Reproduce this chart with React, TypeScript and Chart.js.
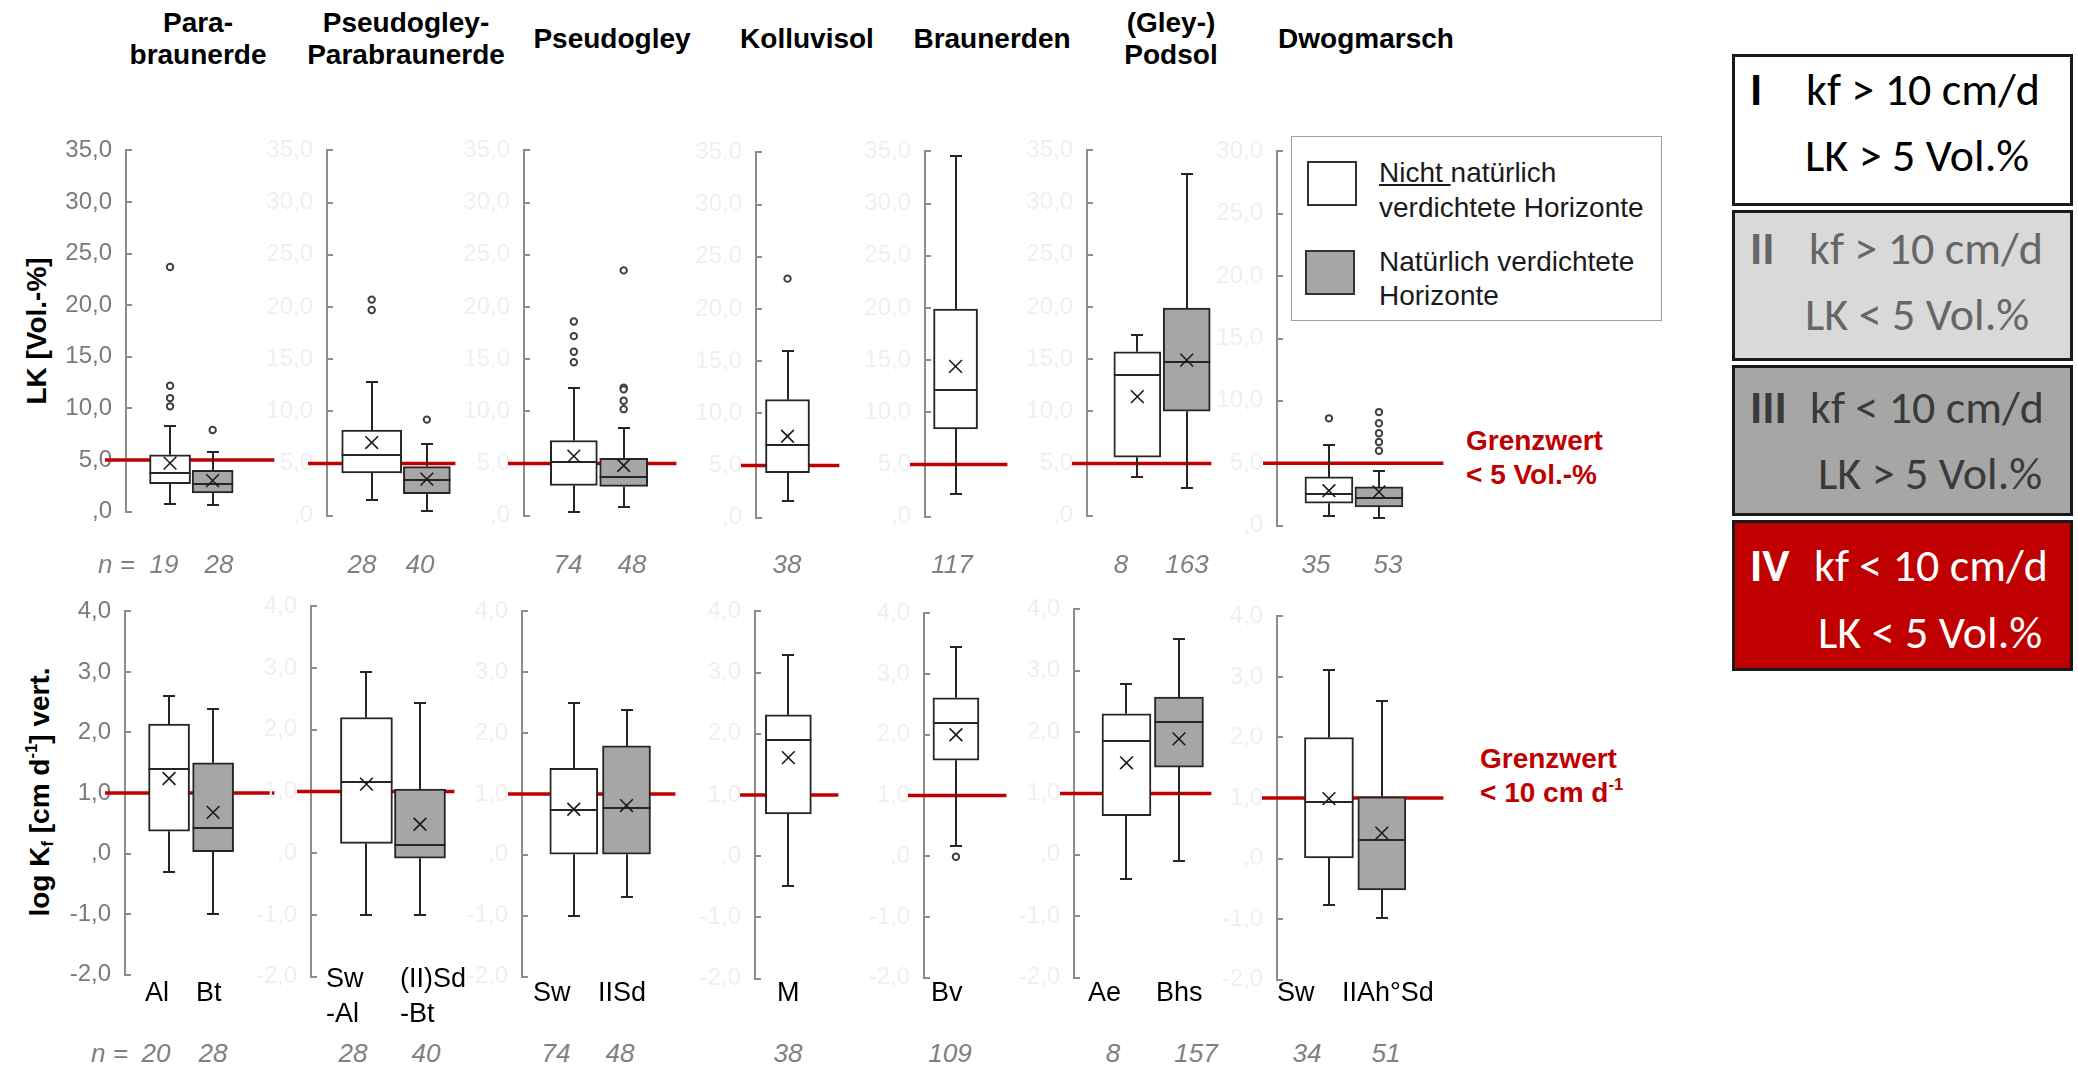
import React, { useEffect, useRef } from 'react';
import { Chart, registerables } from 'chart.js';

Chart.register(...registerables);

const ARIAL = '"Liberation Sans", Arial, sans-serif';
const CALIBRI = 'Carlito, Lato, "Open Sans", sans-serif';

// ---------------- data ----------------
const soilTypes = ['Para-\nbraunerde', 'Pseudogley-\nParabraunerde', 'Pseudogley', 'Kolluvisol', 'Braunerden', '(Gley-)\nPodsol', 'Dwogmarsch'];
const horizons = [['Al', 'Bt'], ['Sw\n-Al', '(II)Sd\n-Bt'], ['Sw', 'IISd'], ['M'], ['Bv'], ['Ae', 'Bhs'], ['Sw', 'IIAh°Sd']];
const naturallyCompacted = [[false, true], [false, true], [false, true], [false], [false], [false, true], [false, true]];

// LK [Vol.-%]
const lkWhiskerLow = [[0.7, 0.6], [1.5, 0.4], [0.3, 0.8], [1.6], [2.2], [3.7, 2.6], [0.8, 0.6]];
const lkQ1 = [[2.7, 1.8], [4.1, 2.1], [2.9, 2.8], [4.3], [8.4], [5.6, 10.0], [1.8, 1.5]];
const lkMedian = [[3.7, 2.7], [5.8, 3.4], [5.1, 3.7], [7.0], [12.1], [13.5, 14.7], [2.5, 2.2]];
const lkQ3 = [[5.5, 4.0], [8.2, 4.7], [7.2, 5.5], [11.3], [19.9], [15.7, 19.9], [3.9, 3.1]];
const lkWhiskerHigh = [[8.3, 5.8], [12.8, 6.9], [12.2, 8.4], [16.0], [34.6], [17.3, 32.7], [6.5, 4.4]];
const lkMean = [[4.7, 3.0], [7.0, 3.5], [5.7, 4.8], [7.8], [14.4], [11.4, 14.9], [2.8, 2.7]];
const lkOutliers = [
  [[23.7, 12.2, 11.0, 10.2], [7.9]],
  [[20.7, 19.7], [9.2]],
  [[18.6, 17.2, 15.7, 14.7], [23.5, 12.25, 12.1, 11.0, 10.2]],
  [[22.9]],
  [[]],
  [[], []],
  [[8.6], [9.1, 8.2, 7.4, 6.7, 6.0]],
];
const lkN = [[19, 28], [28, 40], [74, 48], [38], [117], [8, 163], [35, 53]];
const lkAxisMax = [35, 35, 35, 35, 35, 35, 30];
const lkTickValues = [0, 5, 10, 15, 20, 25, 30, 35];
const lkTickLabels = [',0', '5,0', '10,0', '15,0', '20,0', '25,0', '30,0', '35,0'];
const lkLimit = 5;

// log Kf [cm d-1]
const kfWhiskerLow = [[-0.3, -1.0], [-1.0, -1.0], [-1.0, -0.69], [-0.48], [0.17], [-0.39, -0.1], [-0.76, -0.99]];
const kfQ1 = [[0.37, 0.03], [0.16, -0.08], [0.01, 0.01], [0.69], [1.58], [0.64, 1.43], [0.01, -0.52]];
const kfMedian = [[1.4, 0.42], [1.15, 0.14], [0.74, 0.77], [1.9], [2.2], [1.85, 2.16], [0.93, 0.3]];
const kfQ3 = [[2.14, 1.5], [2.2, 1.04], [1.42, 1.79], [2.31], [2.61], [2.3, 2.57], [2.0, 1.02]];
const kfWhiskerHigh = [[2.61, 2.38], [2.93, 2.44], [2.5, 2.38], [3.28], [3.44], [2.78, 3.52], [3.11, 2.6]];
const kfMean = [[1.24, 0.68], [1.12, 0.47], [0.75, 0.81], [1.61], [2.0], [1.5, 1.89], [0.99, 0.42]];
const kfOutliers = [[[], []], [[], []], [[], []], [[]], [[-0.01]], [[], []], [[], []]];
const kfN = [[20, 28], [28, 40], [74, 48], [38], [109], [8, 157], [34, 51]];
const kfTickValues = [-2, -1, 0, 1, 2, 3, 4];
const kfTickLabels = ['-2,0', '-1,0', ',0', '1,0', '2,0', '3,0', '4,0'];
const kfLimit = 1;

const classNumerals = ['I', 'II', 'III', 'IV'];
const classKf = ['kf > 10 cm/d', 'kf > 10 cm/d', 'kf < 10 cm/d', 'kf < 10 cm/d'];
const classLk = ['LK > 5 Vol.%', 'LK < 5 Vol.%', 'LK > 5 Vol.%', 'LK < 5 Vol.%'];

// ---------------- layout ----------------
type Geom = { axis: number; right: number; top: number; bottom: number; centers: number[]; widths: number[]; redExt: number };

const TOP_LAYOUT: Geom[] = [
  { axis: 126, right: 281, top: 135.5, bottom: 526, centers: [172, 216.5], widths: [41, 41], redExt: 21 },
  { axis: 327, right: 462, top: 135.7, bottom: 530, centers: [374, 432], widths: [60, 47], redExt: 19 },
  { axis: 524, right: 683, top: 135.7, bottom: 530, centers: [576, 628], widths: [47, 48], redExt: 16 },
  { axis: 756, right: 846, top: 138, bottom: 532, centers: [790], widths: [44], redExt: 15 },
  { axis: 925, right: 1014, top: 137, bottom: 531, centers: [958], widths: [44], redExt: 15 },
  { axis: 1087, right: 1218, top: 136, bottom: 530, centers: [1140, 1192], widths: [47, 47], redExt: 15 },
  { axis: 1277, right: 1450, top: 136.8, bottom: 540.4, centers: [1331, 1383], widths: [48, 48], redExt: 14 },
];
const BOTTOM_LAYOUT: Geom[] = [
  { axis: 125, right: 281, top: 596.6, bottom: 989.4, centers: [171, 217], widths: [41, 41], redExt: 20 },
  { axis: 311, right: 461, top: 592.4, bottom: 991, centers: [369, 425], widths: [52, 51], redExt: 14 },
  { axis: 522, right: 682, top: 596.6, bottom: 990.7, centers: [576, 631], widths: [48, 48], redExt: 14 },
  { axis: 755, right: 845, top: 597.3, bottom: 992.8, centers: [791], widths: [46], redExt: 15 },
  { axis: 924, right: 1013, top: 599.4, bottom: 991.8, centers: [958.5], widths: [46], redExt: 16 },
  { axis: 1074, right: 1218, top: 595, bottom: 992, centers: [1129, 1184], widths: [49, 49], redExt: 14 },
  { axis: 1277, right: 1450, top: 601.8, bottom: 993.5, centers: [1331, 1386], widths: [49, 48], redExt: 15 },
];

const TITLE_X = [198, 406, 612, 807, 992, 1171, 1366];
const N_TOP_X = [[164, 219], [362, 420], [568, 632], [787], [952], [1121, 1187], [1316, 1388]];
const N_BOTTOM_X = [[156, 213], [353, 426], [556, 620], [788], [950], [1113, 1196], [1307, 1386]];
const HORIZON_X = [[145, 196], [326, 400], [533, 598], [777], [931], [1088, 1156], [1277, 1342]];

type PanelProps = {
  geom: Geom;
  compacted: boolean[];
  wLow: number[]; q1: number[]; med: number[]; q3: number[]; wHigh: number[]; mean: number[];
  outliers: number[][];
  yMin: number; yMax: number; step: number;
  tickValues: number[]; tickLabels: string[]; tickColor: string; limit: number;
};

function BoxPanel(p: PanelProps) {
  const ref = useRef<HTMLCanvasElement>(null);
  const WY = 70, PT = 20, PB = 20, PR = 4;
  const g = p.geom;
  const axisX = Math.round(g.axis);
  const right = Math.round(g.right);
  const yTop = Math.round(g.top);
  const yBot = Math.round(g.bottom);
  const left = axisX - WY;
  const width = right - axisX + WY + PR;
  const height = yBot - yTop + PT + PB;

  useEffect(() => {
    const canvas = ref.current;
    if (!canvas) return;
    const n = p.q1.length;
    const S = n > 1 ? g.centers[1] - g.centers[0] : 50;
    const xMin = (axisX - g.centers[0]) / S;
    const xMax = (right - g.centers[0]) / S;
    const datasets: any[] = [];
    for (let i = 0; i < n; i++) {
      datasets.push({
        type: 'bar',
        data: [{ x: i, y: [p.q1[i], p.q3[i]] }],
        backgroundColor: p.compacted[i] ? '#a6a6a6' : '#ffffff',
        borderColor: '#262626',
        borderWidth: 2,
        borderSkipped: false,
        barThickness: g.widths[i],
        grouped: false,
        order: 3,
      });
    }
    datasets.push({
      type: 'scatter',
      data: p.mean.map((m, i) => ({ x: i, y: m })),
      pointStyle: 'crossRot',
      pointRadius: 9,
      pointBorderWidth: 1.6,
      pointBorderColor: '#1a1a1a',
      pointBackgroundColor: 'rgba(0,0,0,0)',
      order: 1,
    });
    const outl: { x: number; y: number }[] = [];
    p.outliers.forEach((arr, i) => arr.forEach((v) => outl.push({ x: i, y: v })));
    datasets.push({
      type: 'scatter',
      data: outl,
      pointStyle: 'circle',
      pointRadius: 3.2,
      pointBorderWidth: 2,
      pointBorderColor: '#404040',
      pointBackgroundColor: '#ffffff',
      order: 2,
    });

    const extras = {
      id: 'boxExtras',
      beforeDatasetsDraw(chart: any) {
        const { ctx, chartArea } = chart;
        const y = chart.scales.y;
        ctx.save();
        const ly = y.getPixelForValue(p.limit);
        ctx.strokeStyle = '#c00000';
        ctx.lineWidth = 3.5;
        ctx.beginPath();
        ctx.moveTo(chartArea.left - g.redExt, ly);
        ctx.lineTo(chartArea.right, ly);
        ctx.stroke();
        ctx.strokeStyle = '#262626';
        ctx.lineWidth = 2;
        for (let i = 0; i < n; i++) {
          const el = chart.getDatasetMeta(i).data[0];
          const x = Math.round(el.x);
          const yq3 = y.getPixelForValue(p.q3[i]);
          const yhi = Math.round(y.getPixelForValue(p.wHigh[i]));
          const yq1 = y.getPixelForValue(p.q1[i]);
          const ylo = Math.round(y.getPixelForValue(p.wLow[i]));
          ctx.beginPath();
          ctx.moveTo(x, yq3); ctx.lineTo(x, yhi);
          ctx.moveTo(x - 6, yhi); ctx.lineTo(x + 6, yhi);
          ctx.moveTo(x, yq1); ctx.lineTo(x, ylo);
          ctx.moveTo(x - 6, ylo); ctx.lineTo(x + 6, ylo);
          ctx.stroke();
        }
        ctx.restore();
      },
      afterDatasetDraw(chart: any, args: any) {
        if (args.index >= n) return;
        const el = args.meta.data[0];
        const ctx = chart.ctx;
        const ym = Math.round(chart.scales.y.getPixelForValue(p.med[args.index]));
        ctx.save();
        ctx.strokeStyle = '#262626';
        ctx.lineWidth = 2;
        ctx.beginPath();
        ctx.moveTo(el.x - el.width / 2, ym);
        ctx.lineTo(el.x + el.width / 2, ym);
        ctx.stroke();
        ctx.restore();
      },
    };

    const chart = new Chart(canvas, {
      type: 'bar',
      data: { datasets },
      options: {
        animation: false,
        responsive: false,
        maintainAspectRatio: false,
        events: [],
        layout: { padding: { top: PT, bottom: PB, left: 0, right: PR } },
        plugins: { legend: { display: false }, tooltip: { enabled: false } },
        scales: {
          x: {
            type: 'linear',
            display: false,
            offset: false,
            bounds: 'data',
            grace: 0,
            min: xMin,
            max: xMax,
            afterBuildTicks: (s: any) => { s.min = xMin; s.max = xMax; },
          },
          y: {
            type: 'linear',
            min: p.yMin,
            max: p.yMax,
            afterFit: (s: any) => { s.width = WY; },
            ticks: {
              stepSize: p.step,
              color: p.tickColor,
              padding: 20,
              font: { family: ARIAL, size: 24 },
              callback: (v: any) => {
                const k = p.tickValues.indexOf(Number(v));
                return k >= 0 ? p.tickLabels[k] : '';
              },
            },
            grid: { drawOnChartArea: false, drawTicks: true, tickLength: -6, color: '#8c8c8c', lineWidth: 2 },
            border: { display: true, color: '#8c8c8c', width: 2 },
          },
        },
      } as any,
      plugins: [extras as any],
    });
    return () => chart.destroy();
  }, []);

  return (
    <canvas
      ref={ref}
      width={width}
      height={height}
      style={{ position: 'absolute', left, top: yTop - PT, width, height, display: 'block' }}
    />
  );
}

const abs = (left: number, top: number, extra: React.CSSProperties = {}): React.CSSProperties => ({
  position: 'absolute', left, top, whiteSpace: 'pre', ...extra,
});

export default function App() {
  const nStyle: React.CSSProperties = { fontFamily: ARIAL, fontStyle: 'italic', fontSize: 26, color: '#808080', lineHeight: '30px' };
  const classBg = ['#ffffff', '#d9d9d9', '#a6a6a6', '#c00000'];
  const classFg = ['#000000', '#666666', '#3a3a3a', '#ffffff'];
  const classTop = [54, 210, 365, 520];
  const classBottom = [206, 361, 516, 671];
  const l1Off = [35, 38, 42, 45];
  const l2Off = [101, 104, 108, 112];
  const l1X = [1806, 1809, 1810, 1814];
  const l2X = [1805, 1805, 1818, 1818];

  return (
    <div style={{ position: 'absolute', left: 0, top: 0, width: 2078, height: 1066, background: '#ffffff', overflow: 'hidden', fontFamily: ARIAL }}>
      {/* Titles */}
      {soilTypes.map((t, i) => (
        <div key={'t' + i} style={abs(TITLE_X[i], 39, { transform: 'translate(-50%,-50%)', fontWeight: 'bold', fontSize: 28, lineHeight: '32px', textAlign: 'center', color: '#000' })}>{t}</div>
      ))}

      {/* Y axis titles */}
      <div style={abs(37, 331, { transform: 'translate(-50%,-50%) rotate(-90deg)', fontWeight: 'bold', fontSize: 28, color: '#000' })}>LK [Vol.-%]</div>
      <div style={abs(40, 792, { transform: 'translate(-50%,-50%) rotate(-90deg)', fontWeight: 'bold', fontSize: 28, color: '#000' })}>
        log K<sub style={{ fontSize: '0.6em', verticalAlign: '-0.25em', lineHeight: 0 }}>f</sub> [cm d<sup style={{ fontSize: '0.6em', verticalAlign: '0.7em', lineHeight: 0 }}>-1</sup>] vert.
      </div>

      {/* Top row panels: LK */}
      {TOP_LAYOUT.map((g, i) => (
        <BoxPanel
          key={'top' + i}
          geom={g}
          compacted={naturallyCompacted[i]}
          wLow={lkWhiskerLow[i]} q1={lkQ1[i]} med={lkMedian[i]} q3={lkQ3[i]} wHigh={lkWhiskerHigh[i]} mean={lkMean[i]}
          outliers={lkOutliers[i]}
          yMin={0} yMax={lkAxisMax[i]} step={5}
          tickValues={lkTickValues} tickLabels={lkTickLabels}
          tickColor={i === 0 ? '#7a7a7a' : '#efefef'}
          limit={lkLimit}
        />
      ))}

      {/* Bottom row panels: log Kf */}
      {BOTTOM_LAYOUT.map((g, i) => (
        <BoxPanel
          key={'bot' + i}
          geom={g}
          compacted={naturallyCompacted[i]}
          wLow={kfWhiskerLow[i]} q1={kfQ1[i]} med={kfMedian[i]} q3={kfQ3[i]} wHigh={kfWhiskerHigh[i]} mean={kfMean[i]}
          outliers={kfOutliers[i]}
          yMin={-2} yMax={4} step={1}
          tickValues={kfTickValues} tickLabels={kfTickLabels}
          tickColor={i === 0 ? '#7a7a7a' : '#efefef'}
          limit={kfLimit}
        />
      ))}

      {/* n labels */}
      <div style={abs(98, 564, { ...nStyle, transform: 'translateY(-50%)' })}>n =</div>
      <div style={abs(91, 1053, { ...nStyle, transform: 'translateY(-50%)' })}>n =</div>
      {lkN.map((arr, i) => arr.map((v, j) => (
        <div key={'nt' + i + j} style={abs(N_TOP_X[i][j], 564, { ...nStyle, transform: 'translate(-50%,-50%)' })}>{v}</div>
      )))}
      {kfN.map((arr, i) => arr.map((v, j) => (
        <div key={'nb' + i + j} style={abs(N_BOTTOM_X[i][j], 1053, { ...nStyle, transform: 'translate(-50%,-50%)' })}>{v}</div>
      )))}

      {/* Horizon labels */}
      {horizons.map((arr, i) => arr.map((h, j) => (
        <div key={'h' + i + j} style={abs(HORIZON_X[i][j], h.includes('\n') ? 996 : 992, { transform: 'translateY(-50%)', fontSize: 27, lineHeight: '35px', color: '#000' })}>{h}</div>
      )))}

      {/* Grenzwert labels */}
      <div style={abs(1466, 458, { transform: 'translateY(-50%)', fontWeight: 'bold', fontSize: 28, lineHeight: '34px', color: '#c00000' })}>{'Grenzwert\n< 5 Vol.-%'}</div>
      <div style={abs(1480, 776, { transform: 'translateY(-50%)', fontWeight: 'bold', fontSize: 28, lineHeight: '34px', color: '#c00000' })}>
        {'Grenzwert\n< 10 cm d'}<sup style={{ fontSize: '0.6em', verticalAlign: '0.7em', lineHeight: 0 }}>-1</sup>
      </div>

      {/* Legend inside Dwogmarsch panel */}
      <div style={abs(1291, 136, { width: 371, height: 185, border: '1.5px solid #a0a0a0', boxSizing: 'border-box', background: '#ffffff' })} />
      <div style={abs(1307, 161, { width: 50, height: 45, border: '2px solid #333', boxSizing: 'border-box', background: '#ffffff' })} />
      <div style={abs(1305, 250, { width: 50, height: 45, border: '2px solid #333', boxSizing: 'border-box', background: '#a6a6a6' })} />
      <div style={abs(1379, 190, { transform: 'translateY(-50%)', fontSize: 28, lineHeight: '35px', color: '#1a1a1a' })}>
        <span style={{ textDecoration: 'underline' }}>Nicht </span>{'natürlich\nverdichtete Horizonte'}
      </div>
      <div style={abs(1379, 279, { transform: 'translateY(-50%)', fontSize: 28, lineHeight: '34px', color: '#1a1a1a' })}>{'Natürlich verdichtete\nHorizonte'}</div>

      {/* Class boxes I - IV */}
      {classNumerals.map((num, k) => (
        <React.Fragment key={'c' + k}>
          <div style={abs(1732, classTop[k], { width: 341, height: classBottom[k] - classTop[k], border: '3px solid #1a1a1a', boxSizing: 'border-box', background: classBg[k] })} />
          <div style={abs(1750, classTop[k] + l1Off[k], { transform: 'translateY(-50%)', fontFamily: CALIBRI, fontWeight: 'bold', fontSize: 46, color: classFg[k] })}>{num}</div>
          <div style={abs(l1X[k], classTop[k] + l1Off[k], { transform: 'translateY(-50%)', fontFamily: CALIBRI, fontSize: 46, color: classFg[k] })}>{classKf[k]}</div>
          <div style={abs(l2X[k], classTop[k] + l2Off[k], { transform: 'translateY(-50%)', fontFamily: CALIBRI, fontSize: 46, color: classFg[k] })}>{classLk[k]}</div>
        </React.Fragment>
      ))}
    </div>
  );
}
